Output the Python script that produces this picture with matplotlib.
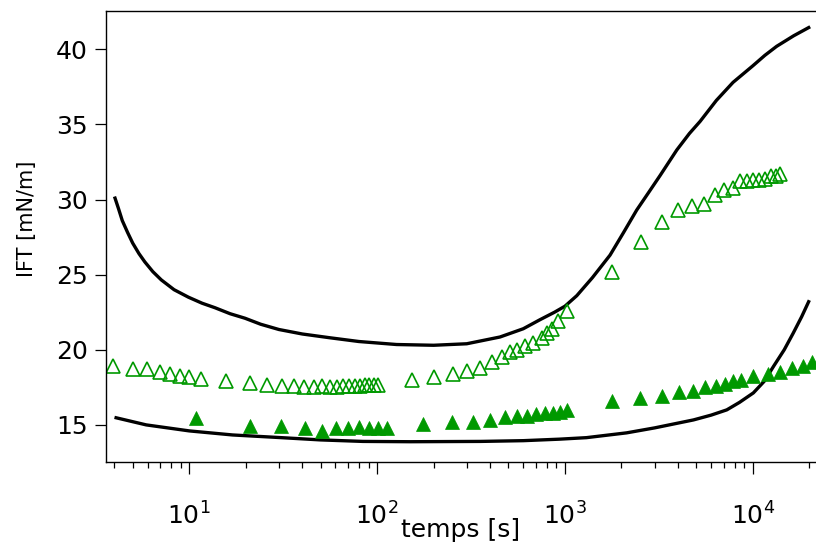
# IFT vs time, log time axis, two fitted curves + two marker series
import numpy as np
import matplotlib
matplotlib.use("Agg")
import matplotlib.pyplot as plt
from matplotlib.ticker import LogLocator, NullFormatter

plt.rcParams['font.family'] = ['DejaVu Sans']

# upper fitted curve
upper_t = [4.0, 4.2, 4.4, 4.7, 5.0, 5.4, 5.8, 6.4, 7.1, 8.3, 9.9, 11.7, 13.7, 16.5, 19.8, 24,
           30, 40, 56, 80, 127, 200, 300, 451, 600, 736, 880, 1000, 1156, 1400, 1738, 2050,
           2410, 2800, 3210, 3940, 4600, 5240, 6400, 7850, 10000, 11600, 13400, 16500, 20200]
upper_ift = [30.2, 29.4, 28.6, 27.8, 27.1, 26.4, 25.85, 25.2, 24.65, 24.0, 23.5, 23.1, 22.8,
             22.4, 22.1, 21.7, 21.35, 21.05, 20.8, 20.55, 20.35, 20.3, 20.4, 20.85, 21.4,
             22.0, 22.5, 22.9, 23.6, 24.8, 26.3, 27.8, 29.3, 30.5, 31.6, 33.3, 34.4, 35.2,
             36.6, 37.8, 38.9, 39.6, 40.2, 40.9, 41.5]

# lower fitted curve
lower_t = [4.0, 5.9, 10, 17, 31, 50, 84, 150, 355, 600, 935, 1300, 2130, 3000, 4830, 6000,
           7270, 8500, 10070, 11500, 12900, 14700, 16400, 18200, 20000]
lower_ift = [15.5, 15.0, 14.6, 14.33, 14.15, 14.0, 13.9, 13.88, 13.9, 13.95, 14.05, 14.15,
             14.47, 14.8, 15.33, 15.65, 16.0, 16.5, 17.13, 17.9, 18.9, 20.0, 21.1, 22.2, 23.3]

# open triangles
open_t = [3.94, 5.0, 5.93, 6.98, 7.9, 8.9, 10.0, 11.6, 15.7, 21, 25.8,
          31, 36, 41, 46, 51, 56, 61, 66, 71, 76, 81, 86, 91, 96, 101,
          153, 201, 255, 300, 353, 408, 461, 510, 558, 614, 679, 752, 800, 851, 916, 1023,
          1775, 2535, 3305, 3990, 4770, 5520, 6290, 7030, 7830, 8560, 9360, 10070, 10840,
          11630, 12510, 13300, 13970]
open_ift = [18.93, 18.71, 18.71, 18.49, 18.38, 18.27, 18.16, 18.05, 17.89, 17.78, 17.67,
            17.56, 17.56, 17.49, 17.49, 17.56, 17.49, 17.52, 17.56, 17.58, 17.6, 17.62, 17.64,
            17.65, 17.67, 17.67,
            18.0, 18.18, 18.4, 18.56, 18.82, 19.16, 19.51, 19.82, 20.0, 20.22, 20.44, 20.78,
            21.1, 21.4, 21.9, 22.6,
            25.16, 27.15, 28.51, 29.29, 29.55, 29.73, 30.33, 30.62, 30.78, 31.22, 31.22, 31.29,
            31.33, 31.38, 31.55, 31.6, 31.73]

# filled triangles
filled_t = [10.9, 21, 30.8, 41.3, 50.7, 60.5, 70, 80.3, 91, 101.6, 113, 175, 252, 323, 399,
            480, 554, 626, 702, 783, 867, 942, 1030, 1775, 2513, 3300, 4070, 4790, 5570, 6380,
            7070, 7890, 8670, 10000, 12100, 13970, 16250, 18600, 20600]
filled_ift = [15.49, 14.93, 14.9, 14.78, 14.62, 14.82, 14.82, 14.89, 14.82, 14.82, 14.82,
              15.07, 15.16, 15.22, 15.33, 15.51, 15.6, 15.6, 15.71, 15.78, 15.82, 15.89, 16.0,
              16.56, 16.76, 16.93, 17.16, 17.27, 17.51, 17.6, 17.71, 17.93, 18.0, 18.27, 18.38,
              18.49, 18.78, 18.93, 19.16]

y_ticks = [15, 20, 25, 30, 35, 40]
green = '#009900'

fig = plt.figure(figsize=(8.16, 5.46), dpi=100)
ax = fig.add_axes([0.1295, 0.1544, 0.8705, 0.826])

ax.plot(upper_t, upper_ift, color='black', lw=2.4, solid_capstyle='butt')
ax.plot(lower_t, lower_ift, color='black', lw=2.4, solid_capstyle='butt')
ax.plot(open_t, open_ift, ls='none', marker='^', ms=10, mfc='none', mec=green, mew=1.2)
ax.plot(filled_t, filled_ift, ls='none', marker='^', ms=10, mfc=green, mec=green, mew=0.5)

ax.set_xscale('log')
ax.set_xlim(3.59, 21700)
ax.set_ylim(12.55, 42.57)
ax.set_yticks(y_ticks)
ax.xaxis.set_minor_locator(LogLocator(base=10, subs=np.arange(2, 10)))
ax.xaxis.set_minor_formatter(NullFormatter())

ax.spines['right'].set_visible(False)
for s in ['left', 'bottom', 'top']:
    ax.spines[s].set_linewidth(1.0)

ax.tick_params(axis='y', which='major', length=8, width=0.9, pad=5, labelsize=18)
ax.tick_params(axis='x', which='major', length=8.5, width=0.9, pad=21, labelsize=18)
ax.tick_params(axis='x', which='minor', length=4.5, width=0.9)

ax.set_xlabel('temps [s]', fontsize=18)
ax.xaxis.set_label_coords(0.5, -0.125)
ax.set_ylabel('IFT [mN/m]', fontsize=15)
ax.yaxis.set_label_coords(-0.096, 0.538)

fig.savefig('out.png', dpi=100)
